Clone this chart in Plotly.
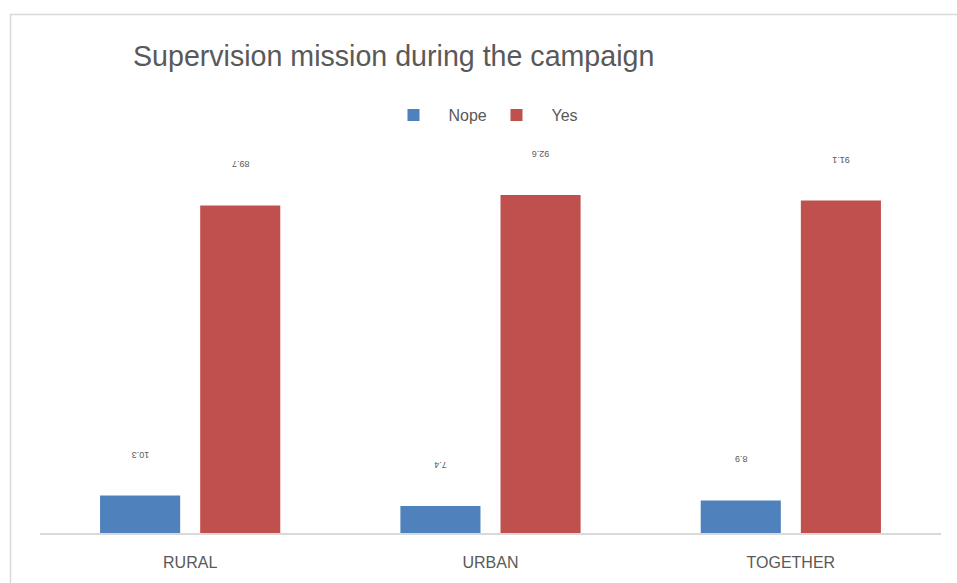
import plotly.graph_objects as go

categories = ["RURAL", "URBAN", "TOGETHER"]
nope_values = [10.3, 7.4, 8.9]
yes_values = [89.7, 92.6, 91.1]
series_names = ["Nope", "Yes"]
colors = ["#4F81BD", "#C0504D"]

fig = go.Figure()
for name, vals, col in zip(series_names, [nope_values, yes_values], colors):
    fig.add_trace(go.Bar(
        x=categories, y=vals, name=name, marker=dict(color=col, line=dict(width=0)),
        text=[f"{v}" for v in vals], textposition="none", hoverinfo="x+y",
    ))

# rotated data labels (upside down, as in the reference)
offsets = [-0.1667, 0.1667]
for si, vals in enumerate([nope_values, yes_values]):
    for ci, v in enumerate(vals):
        fig.add_annotation(
            x=ci + offsets[si], y=v, xref="x", yref="y",
            text=f"{v}", showarrow=False, textangle=180,
            yshift=41, font=dict(family="Liberation Sans, Arial", size=9, color="#595959"),
        )

fig.update_layout(
    width=957, height=583,
    margin=dict(l=40, r=16, t=168, b=50),
    paper_bgcolor="white", plot_bgcolor="white",
    barmode="group", bargap=0.3333, bargroupgap=0.2,
    title=dict(text="Supervision mission during the campaign", x=133/957, xanchor="left",
               y=1 - 56/583, yanchor="middle",
               font=dict(family="Liberation Sans, Arial", size=28.6, color="#595959")),
    legend=dict(orientation="h", x=0.49, xanchor="center", y=1 - 115/583, yanchor="middle",
                yref="container", font=dict(family="Liberation Sans, Arial", size=16, color="#595959"),
                itemwidth=60, entrywidth=28, entrywidthmode="pixels", traceorder="normal"),
    showlegend=True,
    xaxis=dict(type="category", showgrid=False, showline=True, linecolor="#D9D9D9", linewidth=1.5,
               ticks="", ticklabelstandoff=14,
               tickfont=dict(family="Liberation Sans Narrow, Liberation Sans, Arial", size=16, color="#595959"),
               fixedrange=True),
    yaxis=dict(range=[0, 100], visible=False, showgrid=False, zeroline=False, fixedrange=True),
)

# outer chart border
fig.add_shape(type="rect", xref="paper", yref="paper",
              x0=(10.5 - 40) / 901, x1=(990 - 40) / 901,
              y0=(533 - 620) / 365, y1=(533 - 14.5) / 365,
              line=dict(color="#D9D9D9", width=1.5), fillcolor="rgba(0,0,0,0)", layer="below")

fig.write_html("out.html")
